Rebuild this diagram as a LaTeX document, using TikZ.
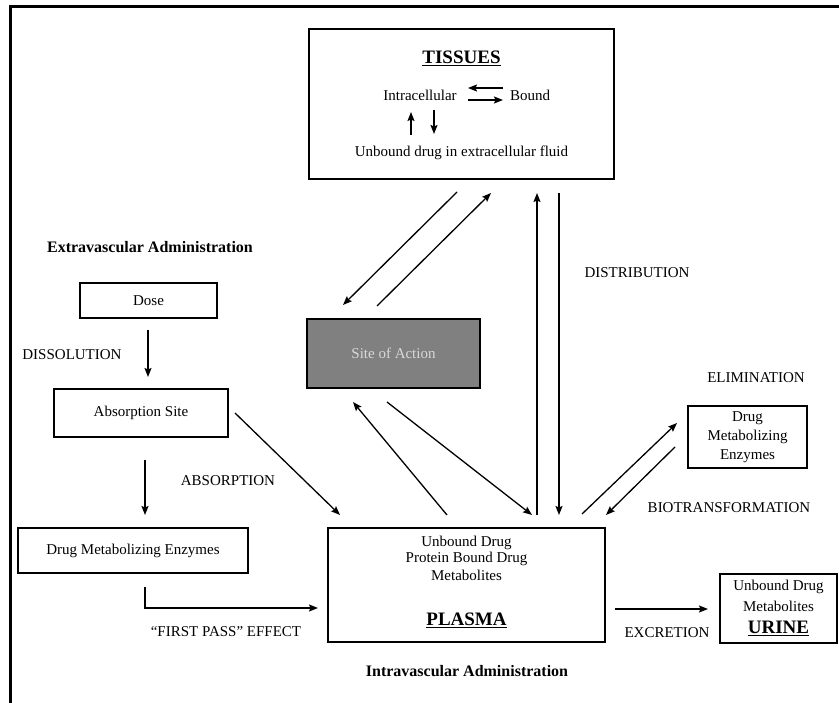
\documentclass[tikz,border=0pt]{standalone}
\usepackage{fontspec}
\setmainfont{Liberation Serif}
\usetikzlibrary{arrows.meta}
\begin{document}
\begin{tikzpicture}[x=1pt,y=-1pt,
  every node/.style={font=\fontsize{15}{16}\selectfont, inner sep=0pt, align=center},
  box/.style={draw, line width=1.4pt, inner sep=0pt},
  arr/.style={line width=1.3pt, -{Stealth[length=9pt,width=7pt,inset=1.5pt]}},
  bold/.style={font=\fontsize{16}{18}\selectfont\bfseries},
  head/.style={font=\fontsize{19}{21}\selectfont\bfseries}]
\useasboundingbox (0,0) rectangle (839,703);
% frame
\draw[line width=3pt] (10,703) -- (10,6.5) -- (839,6.5);

% boxes
\node[box, fill=black!50, minimum width=173pt, minimum height=69pt, text=white!85!black] (site) at (393.5,353.5) {Site of Action};
\node[box, minimum width=305pt, minimum height=150pt] (tissues) at (461.5,104) {};
\node[box, minimum width=137pt, minimum height=35pt] (dose) at (148.5,300.5) {Dose};
\node[box, minimum width=174pt, minimum height=48pt] (absorb) at (141,413) {Absorption Site};
\node[box, minimum width=230pt, minimum height=45pt] (dmeL) at (133,550.5) {Drug Metabolizing Enzymes};
\node[box, minimum width=277pt, minimum height=114pt] (plasma) at (466.5,585) {};
\node[box, minimum width=119pt, minimum height=62pt] (dmeR) at (747.5,437) {};
\node[box, minimum width=117pt, minimum height=69pt] (urine) at (778.5,608.5) {};

% tissues content
\node[head] (tissuesT) at (461.5,58) {\underline{TISSUES}};
\node (intra) at (420,95) {Intracellular};
\node (bound) at (530,95) {Bound};
\node (unb) at (461.5,153) {Unbound drug in extracellular fluid};
\coordinate (ia1) at (503,88);  \coordinate (ia2) at (468,88);
\coordinate (ib1) at (468,100); \coordinate (ib2) at (503,100);
\coordinate (ic1) at (411,135); \coordinate (ic2) at (411,112);
\coordinate (id1) at (434,110); \coordinate (id2) at (434,134);
\draw[arr] (ia1) -- (ia2);
\draw[arr] (ib1) -- (ib2);
\draw[arr] (ic1) -- (ic2);
\draw[arr] (id1) -- (id2);

% plasma content
\node (p1) at (466.5,543) {Unbound Drug};
\node (p2) at (466.5,559) {Protein Bound Drug};
\node (p3) at (466.5,575) {Metabolites};
\node[head] (plasmaT) at (466.5,620) {\underline{PLASMA}};

% right DME content
\node (r1) at (747.5,418) {Drug};
\node (r2) at (747.5,437) {Metabolizing};
\node (r3) at (747.5,456) {Enzymes};

% urine content
\node (u1) at (778.5,587) {Unbound Drug};
\node (u2) at (778.5,606) {Metabolites};
\node[head] (urineT) at (778.5,628) {\underline{URINE}};

% labels
\node[bold] (extra) at (150,247) {Extravascular Administration};
\node[bold] (intrav) at (467,671) {Intravascular Administration};
\node (diss) at (72,355) {DISSOLUTION};
\node (absl) at (228,481) {ABSORPTION};
\node (fpe) at (226,632) {“FIRST PASS” EFFECT};
\node (dist) at (637,273) {DISTRIBUTION};
\node (elim) at (756,378) {ELIMINATION};
\node (bio) at (729,508) {BIOTRANSFORMATION};
\node (excr) at (667,633) {EXCRETION};

% connector end points
\coordinate (d1) at (148,330);  \coordinate (d2) at (148,377);
\coordinate (a1) at (145,460);  \coordinate (a2) at (145,515);
\coordinate (f1) at (145,587);  \coordinate (f2) at (145,608); \coordinate (f3) at (318,608);
\coordinate (ap1) at (235,413); \coordinate (ap2) at (340,515);
\coordinate (t1) at (457,192);  \coordinate (t2) at (343,305);
\coordinate (s1) at (377,306);  \coordinate (s2) at (491,193);
\coordinate (ps1) at (447,515); \coordinate (ps2) at (353,402);
\coordinate (sp1) at (387,402); \coordinate (sp2) at (532,515);
\coordinate (pt1) at (537,515); \coordinate (pt2) at (537,193);
\coordinate (tp1) at (559,193); \coordinate (tp2) at (559,515);
\coordinate (pe1) at (582,514); \coordinate (pe2) at (677,423);
\coordinate (ep1) at (675,447); \coordinate (ep2) at (606,515);
\coordinate (pu1) at (615,609); \coordinate (pu2) at (708,609);

\draw[arr] (d1) -- (d2);
\draw[arr] (a1) -- (a2);
\draw[arr] (f1) -- (f2) -- (f3);
\draw[arr] (ap1) -- (ap2);
\draw[arr] (t1) -- (t2);
\draw[arr] (s1) -- (s2);
\draw[arr] (ps1) -- (ps2);
\draw[arr] (sp1) -- (sp2);
\draw[arr] (pt1) -- (pt2);
\draw[arr] (tp1) -- (tp2);
\draw[arr] (pe1) -- (pe2);
\draw[arr] (ep1) -- (ep2);
\draw[arr] (pu1) -- (pu2);
\end{tikzpicture}
\end{document}
